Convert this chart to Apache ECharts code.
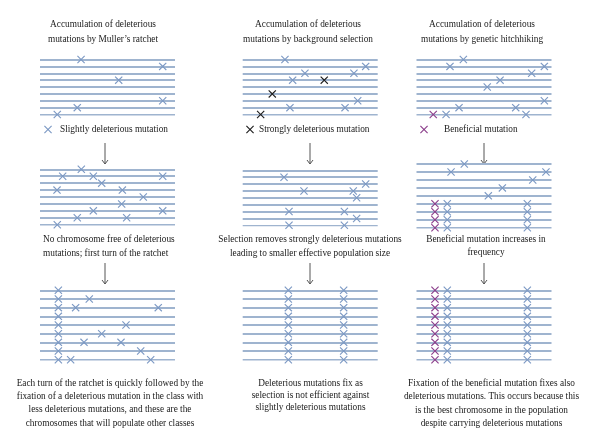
<!DOCTYPE html>
<html><head><meta charset="utf-8">
<script src="https://cdn.jsdelivr.net/npm/echarts@6/dist/echarts.min.js"></script>
<style>html,body{margin:0;padding:0;background:#fff}#c{width:600px;height:448px}</style>
</head><body><div id="c"></div>
<script>
// Chromosome indices (0 = top line) and cross positions (% along chromosome)
const chromosomes = [0,1,2,3,4,5,6,7,8];

// Column 1: Muller's ratchet
const ratchet1Slight = [[30.4,0],[90.9,1],[58.3,3],[90.9,6],[27.6,7],[12.8,8]];
const ratchet2Slight = [[30.6,0],[16.8,1],[39.5,1],[90.9,1],[45.7,2],[12.6,3],[61.0,3],[76.5,4],[60.5,5],[39.5,6],[90.9,6],[27.6,7],[64.2,7],[12.8,8]];
const ratchet3Slight = [[13.6,0],[13.6,1],[13.6,2],[13.6,3],[13.6,4],[13.6,5],[13.6,6],[13.6,7],[13.6,8],
  [36.5,1],[26.4,2],[87.6,2],[63.7,4],[45.7,5],[32.6,6],[60.0,6],[74.6,7],[22.7,8],[82.0,8]];

// Column 2: background selection
const bg1Slight = [[31.3,0],[91.1,1],[82.4,2],[46.1,2],[37.0,3],[85.2,6],[35.0,7],[75.8,7]];
const bg1Strong = [[60.4,3],[21.9,5],[13.3,8]];
const bg2Slight = [[30.6,1],[91.1,2],[45.4,3],[81.9,3],[84.4,4],[34.3,6],[75.3,6],[84.4,7],[34.3,8],[75.3,8]];
const bg3Slight = [[33.8,0],[33.8,1],[33.8,2],[33.8,3],[33.8,4],[33.8,5],[33.8,6],[33.8,7],[33.8,8],
  [74.8,0],[74.8,1],[74.8,2],[74.8,3],[74.8,4],[74.8,5],[74.8,6],[74.8,7],[74.8,8]];

// Column 3: genetic hitchhiking
const hh1Slight = [[34.7,0],[24.8,1],[94.7,1],[85.3,2],[61.9,3],[52.4,4],[94.7,6],[31.5,7],[73.5,7],[21.9,8],[81.1,8]];
const hh1Benef = [[12.4,8]];
const hh2Slight = [[35.4,0],[25.6,1],[95.9,1],[86.1,2],[63.6,3],[53.2,4],
  [22.8,5],[22.8,6],[22.8,7],[22.8,8],[82.1,5],[82.1,6],[82.1,7],[82.1,8]];
const hh2Benef = [[13.7,5],[13.7,6],[13.7,7],[13.7,8]];
const hh3Slight = [[22.8,0],[22.8,1],[22.8,2],[22.8,3],[22.8,4],[22.8,5],[22.8,6],[22.8,7],[22.8,8],
  [82.1,0],[82.1,1],[82.1,2],[82.1,3],[82.1,4],[82.1,5],[82.1,6],[82.1,7],[82.1,8]];
const hh3Benef = [[13.7,0],[13.7,1],[13.7,2],[13.7,3],[13.7,4],[13.7,5],[13.7,6],[13.7,7],[13.7,8]];

const titles = [
  ['Accumulation of deleterious','mutations by Muller\u2019s ratchet'],
  ['Accumulation of deleterious','mutations by background selection'],
  ['Accumulation of deleterious','mutations by genetic hitchhiking']
];
const legendNames = ['Slightly deleterious mutation','Strongly deleterious mutation','Beneficial mutation'];
const captions2 = [
  ['No chromosome free of deleterious','mutations; first turn of the ratchet'],
  ['Selection removes strongly deleterious mutations','leading to smaller effective population size'],
  ['Beneficial mutation increases in','frequency']
];
const captions3 = [
  ['Each turn of the ratchet is quickly followed by the','fixation of a deleterious mutation in the class with','less deleterious mutations, and these are the','chromosomes that will populate other classes'],
  ['Deleterious mutations fix as','selection is not efficient against','slightly deleterious mutations'],
  ['Fixation of the beneficial mutation fixes also','deleterious mutations. This occurs because this','is the best chromosome in the population','despite carrying deleterious mutations']
];

// ---- layout / style ----
const FONT = '"Liberation Serif", "DejaVu Serif", serif';
const FS = 9.3;
const TEXT_COLOR = '#1a1a1a';
const LINE_COLOR = '#9fb4cf';
const BLUE = '#7c99c4', BLACK = '#1e1e1e', PURPLE = '#8c3f8c';
const CROSS = 'path://M0,1L1,0L5,4L9,0L10,1L6,5L10,9L9,10L5,6L1,10L0,9L4,5Z';
const colX = [40, 242.7, 416.5];
const colCenter = [105, 310, 484];
const panelW = 135;
const rowBox = [
  [[59.5,114.5],[59.5,114.5],[59.5,114.5]],
  [[169.3,224.7],[170.3,225.3],[164,227.7]],
  [[290.3,359.7],[290.3,359.7],[290.3,359.7]]
];
const panelData = [
  [[ratchet1Slight],[bg1Slight,bg1Strong],[hh1Slight,null,hh1Benef]],
  [[ratchet2Slight],[bg2Slight],[hh2Slight,null,hh2Benef]],
  [[ratchet3Slight],[bg3Slight],[hh3Slight,null,hh3Benef]]
];
const crossColors = [BLUE, BLACK, PURPLE];

const grids = [], xAxes = [], yAxes = [], series = [];
let gi = 0;
for (let r = 0; r < 3; r++) {
  for (let c = 0; c < 3; c++) {
    const [t, b] = rowBox[r][c];
    grids.push({left: colX[c], top: t, width: panelW, height: b - t});
    xAxes.push({gridIndex: gi, type: 'value', min: 0, max: 100, show: false});
    yAxes.push({gridIndex: gi, type: 'value', min: 0, max: 8, inverse: true, show: false});
    series.push({
      type: 'lines', coordinateSystem: 'cartesian2d', xAxisIndex: gi, yAxisIndex: gi,
      silent: true, z: 1,
      lineStyle: {color: LINE_COLOR, width: 1.8, opacity: 1},
      data: chromosomes.map(k => ({coords: [[0, k], [100, k]]}))
    });
    panelData[r][c].forEach((d, k) => {
      if (!d) return;
      series.push({
        type: 'scatter', name: legendNames[k], xAxisIndex: gi, yAxisIndex: gi,
        symbol: CROSS, symbolSize: 8, z: 3,
        itemStyle: {color: crossColors[k], opacity: 1},
        data: d
      });
    });
    gi++;
  }
}

const legends = [
  {left: 44, top: 125, data: [legendNames[0]], pad: 3},
  {left: 246, top: 125, data: [legendNames[1]], pad: 0},
  {left: 420, top: 125, data: [legendNames[2]], pad: 11}
].map(l => ({
  left: l.left, top: l.top, data: l.data, icon: CROSS, itemWidth: 8, itemHeight: 8,
  selectedMode: false, padding: 0,
  textStyle: {fontFamily: FONT, fontSize: FS, color: TEXT_COLOR, padding: [0, 0, 0, l.pad]}
}));

const graphic = [];
function addText(x, y, txt, align) {
  graphic.push({type: 'text', x: x, y: y,
    style: {text: txt, x: 0, y: 0, fill: TEXT_COLOR, font: FS + 'px ' + FONT,
      textAlign: align, textVerticalAlign: 'middle'}});
}
function addArrow(x, y0, y1) {
  graphic.push({type: 'line', shape: {x1: x, y1: y0, x2: x, y2: y1},
    style: {stroke: '#555', lineWidth: 1}});
  graphic.push({type: 'polyline', shape: {points: [[x - 3, y1 - 4], [x, y1], [x + 3, y1 - 4]]},
    style: {stroke: '#555', lineWidth: 1, fill: null}});
}
for (let c = 0; c < 3; c++) {
  titles[c].forEach((t, i) => addText(colCenter[c] - 2, 25 + i * 15, t, 'center'));
  addArrow(colCenter[c], 143, 164);
  addArrow(colCenter[c], 263, 284);
}
captions2[0].forEach((t, i) => addText(43, 239.5 + i * 14, t, 'left'));
captions2[1].forEach((t, i) => addText(310, 240 + i * 14, t, 'center'));
captions2[2].forEach((t, i) => addText(486, 239.5 + i * 13.5, t, 'center'));
captions3[0].forEach((t, i) => addText(110, 383.5 + i * 13.2, t, 'center'));
captions3[1].forEach((t, i) => addText(310.5, 384 + i * 12, t, 'center'));
captions3[2].forEach((t, i) => addText(491.5, 383.5 + i * 13.3, t, 'center'));

const chart = echarts.init(document.getElementById('c'), null, {renderer: 'canvas'});
chart.setOption({
  animation: false, backgroundColor: '#fff',
  grid: grids, xAxis: xAxes, yAxis: yAxes, legend: legends,
  series: series, graphic: graphic
});
</script></body></html>
